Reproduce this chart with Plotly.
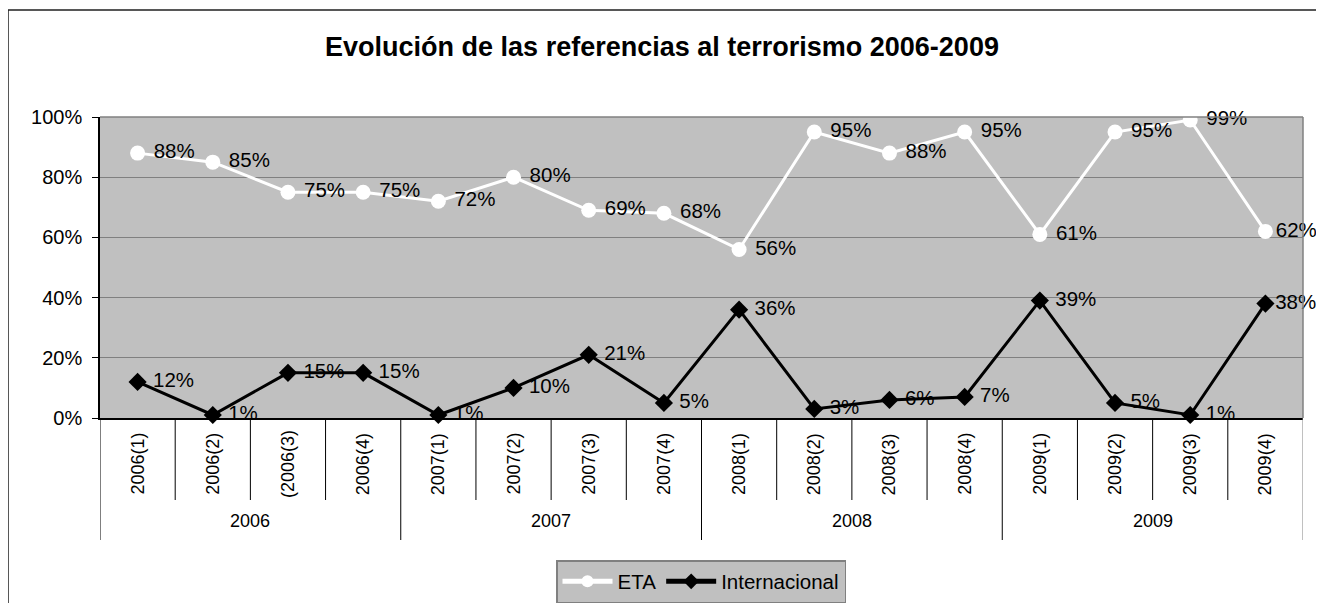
import plotly.graph_objects as go

quarters = ["2006(1)", "2006(2)", "(2006(3)", "2006(4)",
            "2007(1)", "2007(2)", "2007(3)", "2007(4)",
            "2008(1)", "2008(2)", "2008(3)", "2008(4)",
            "2009(1)", "2009(2)", "2009(3)", "2009(4)"]
years = ["2006", "2007", "2008", "2009"]
eta = [0.88, 0.85, 0.75, 0.75, 0.72, 0.80, 0.69, 0.68,
       0.56, 0.95, 0.88, 0.95, 0.61, 0.95, 0.99, 0.62]
internacional = [0.12, 0.01, 0.15, 0.15, 0.01, 0.10, 0.21, 0.05,
                 0.36, 0.03, 0.06, 0.07, 0.39, 0.05, 0.01, 0.38]
y_ticks = [0, 0.2, 0.4, 0.6, 0.8, 1.0]

FONT = "Liberation Sans, Arial, sans-serif"
OFF = 8  # page body margin
W, H = 1324 - 2 * OFF, 660
# desired plot area in page pixels
PX0, PX1, PY0, PY1 = 100, 1303, 117, 418
L = PX0 - OFF
R = W - (PX1 - OFF)
T = PY0 - OFF
B = H - (PY1 - OFF)
pw = PX1 - PX0
ph = PY1 - PY0


def py(pix):  # page pixel y -> paper y
    return (PY1 - pix) / ph


def px(pix):  # page pixel x -> paper x
    return (pix - PX0) / pw


def lbl(vals):
    out = []
    for i, v in enumerate(vals):
        pad = "" if i == len(vals) - 1 else "\u00a0"
        out.append(pad + f"{round(v*100)}%")
    return out


fig = go.Figure()
fig.add_trace(go.Scatter(
    x=quarters, y=eta, name="ETA", mode="lines+markers+text",
    line=dict(color="white", width=3),
    marker=dict(symbol="circle", size=15, color="white"),
    text=lbl(eta), textposition="middle right",
    textfont=dict(family=FONT, size=20.5, color="black"), cliponaxis=False,
))
fig.add_trace(go.Scatter(
    x=quarters, y=internacional, name="Internacional", mode="lines+markers+text",
    line=dict(color="black", width=3),
    marker=dict(symbol="diamond", size=14, color="black"),
    text=lbl(internacional), textposition="middle right",
    textfont=dict(family=FONT, size=20.5, color="black"), cliponaxis=False,
))

shapes = []
# outer frame
shapes.append(dict(type="rect", xref="paper", yref="paper",
                   x0=px(8), x1=px(1318), y0=py(650), y1=py(10),
                   line=dict(color="#202020", width=1.5), fillcolor="rgba(0,0,0,0)"))
# gray top/right plot border
shapes.append(dict(type="line", xref="paper", yref="paper", x0=0, x1=1, y0=1, y1=1,
                   line=dict(color="#808080", width=1.5)))
shapes.append(dict(type="line", xref="paper", yref="paper", x0=1, x1=1, y0=0, y1=1,
                   line=dict(color="#808080", width=1.5)))
# category dividers
n = len(quarters)
for i in range(n + 1):
    is_year = (i % 4 == 0)
    shapes.append(dict(type="line", xref="x", yref="paper",
                       x0=i - 0.5, x1=i - 0.5, y0=0,
                       y1=py(540) if is_year else py(500),
                       line=dict(color="#808080" if i == n else "black", width=1)))

annotations = []
for q in quarters:
    annotations.append(dict(x=q, xref="x", y=py(464), yref="paper", text=q,
                            textangle=-90, showarrow=False, xanchor="center",
                            yanchor="middle",
                            font=dict(family=FONT, size=18, color="black")))
for j, yr in enumerate(years):
    annotations.append(dict(x=4 * j + 1.5, xref="x", y=py(521), yref="paper", text=yr,
                            showarrow=False, xanchor="center", yanchor="middle",
                            font=dict(family=FONT, size=18, color="black")))

fig.update_layout(
    width=W, height=H,
    margin=dict(l=L, r=R, t=T, b=B),
    paper_bgcolor="white", plot_bgcolor="#C0C0C0",
    title=dict(text="<b>Evolución de las referencias al terrorismo 2006-2009</b>",
               x=(662 - OFF) / W, xref="container", xanchor="center",
               y=1 - (47 - OFF) / H, yref="container", yanchor="middle",
               font=dict(family=FONT, size=27, color="black")),
    font=dict(family=FONT, size=20, color="black"),
    showlegend=True,
    legend=dict(orientation="h", x=px(701), xanchor="center", y=py(560), yanchor="top",
                bgcolor="#C0C0C0", bordercolor="#808080", borderwidth=1.5,
                font=dict(family=FONT, size=20.5, color="black"),
                itemsizing="constant", itemwidth=50),
    shapes=shapes, annotations=annotations,
)
fig.update_xaxes(type="category", range=[-0.5, n - 0.5], showticklabels=False,
                 showgrid=False, showline=True, linecolor="black", linewidth=1.5,
                 ticks="", zeroline=False, fixedrange=True)
fig.update_yaxes(range=[0, 1], tickvals=y_ticks, tickformat=".0%",
                 showgrid=True, gridcolor="#808080", gridwidth=1,
                 showline=True, linecolor="black", linewidth=1.5,
                 ticks="outside", ticklen=6, tickcolor="black",
                 ticklabelstandoff=6,
                 tickfont=dict(family=FONT, size=20, color="black"),
                 zeroline=False, fixedrange=True)

fig.write_html("out.html")
